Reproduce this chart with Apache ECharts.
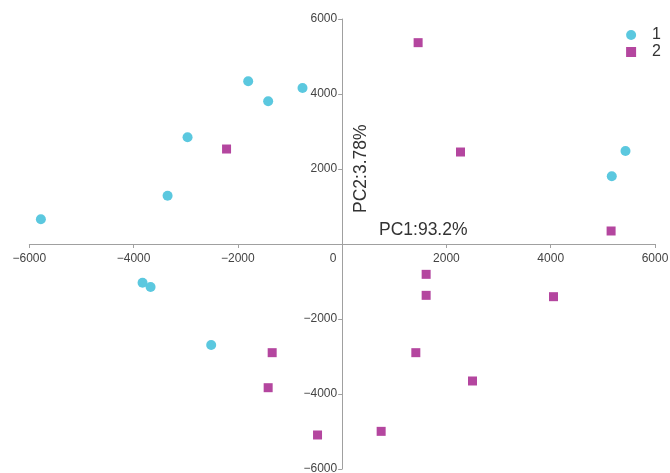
<!DOCTYPE html>
<html><head><meta charset="utf-8">
<script src="https://cdn.jsdelivr.net/npm/echarts@6/dist/echarts.min.js"></script>
<style>html,body{margin:0;padding:0;background:#fff}#c{width:670px;height:473px}</style>
</head><body><div id="c"></div>
<script>
var group1X = [-5778, -3348, -2965, -1802, -1419, -760, 5434, 5171, -3828, -3674, -2512];
var group1Y = [659, 1288, 2845, 4338, 3805, 4160, 2480, 1805, -1032, -1147, -2693];
var group2X = [-2217, 1457, 2270, 5158, -1342, -1419, -472, 1611, 1611, 4053, 1413, 2500, 748];
var group2Y = [2533, 5369, 2453, 347, -2898, -3832, -5093, -809, -1369, -1405, -2898, -3653, -4996];
var seriesNames = ['1', '2'];
var axisTicks = [-6000, -4000, -2000, 0, 2000, 4000, 6000];
var xName = 'PC1:93.2%';
var yName = 'PC2:3.78%';

function pairs(xs, ys){ return xs.map(function(x,i){ return [x, ys[i]]; }); }
function fmt(v){ return v < 0 ? '\u2212' + Math.abs(v) : String(v); }

var W = 670, H = 473;
var gl = 29.3, gr = 15, gt = 19, gb = 4;
var gridW = W - gl - gr, gridH = H - gt - gb;

var chart = echarts.init(document.getElementById('c'));
var font = 'Liberation Sans, Arial, sans-serif';
chart.setOption({
  animation: false,
  textStyle: {fontFamily: font},
  grid: {left: gl, right: gr, top: gt, bottom: gb, containLabel: false, outerBoundsMode: 'none'},
  legend: {
    orient: 'vertical', right: 4, top: 22, itemGap: 1, itemWidth: 10, itemHeight: 10,
    textStyle: {fontSize: 16, color: '#333', fontFamily: font, padding: [0, 0, 0, 11]},
    data: [{name: seriesNames[0], icon: 'circle'}, {name: seriesNames[1], icon: 'rect'}]
  },
  xAxis: {
    type: 'value', min: axisTicks[0], max: axisTicks[axisTicks.length-1], interval: 2000,
    position: 'bottom', offset: -gridH / 2,
    axisLine: {onZero: false, lineStyle: {color: '#a0a0a0', width: 1}},
    axisTick: {show: true, inside: false, length: 4, lineStyle: {color: '#a0a0a0'}},
    splitLine: {show: false},
    axisLabel: {
      color: '#444', fontSize: 12, fontFamily: font, margin: 9, showMaxLabel: true, showMinLabel: true,
      formatter: function(v){ return v === 0 ? '{z|0}' : fmt(v); },
      rich: {z: {padding: [0, 18, 0, 0], color: '#444', fontSize: 12, fontFamily: font}}
    }
  },
  yAxis: {
    type: 'value', min: axisTicks[0], max: axisTicks[axisTicks.length-1], interval: 2000,
    position: 'left', offset: -gridW / 2,
    axisLine: {onZero: false, lineStyle: {color: '#a0a0a0', width: 1}},
    axisTick: {show: true, inside: false, length: 4, lineStyle: {color: '#a0a0a0'}},
    splitLine: {show: false},
    axisLabel: {
      color: '#444', fontSize: 12, fontFamily: font, margin: 5, showMaxLabel: true, showMinLabel: true,
      formatter: function(v){ return v === 0 ? '' : fmt(v); }
    }
  },
  graphic: [
    {type: 'text', left: 379, top: 221, style: {text: xName, fontSize: 17.5, fill: '#333', fontFamily: font}},
    {type: 'text', x: 352, y: 213, rotation: Math.PI/2, style: {text: yName, fontSize: 17.5, fill: '#333', fontFamily: font}}
  ],
  series: [
    {name: seriesNames[0], type: 'scatter', symbol: 'circle', symbolSize: 10,
     itemStyle: {color: '#5BC8DF', opacity: 1}, data: pairs(group1X, group1Y)},
    {name: seriesNames[1], type: 'scatter', symbol: 'rect', symbolSize: 9,
     itemStyle: {color: '#B4469F', opacity: 1}, data: pairs(group2X, group2Y)}
  ]
});
</script></body></html>
